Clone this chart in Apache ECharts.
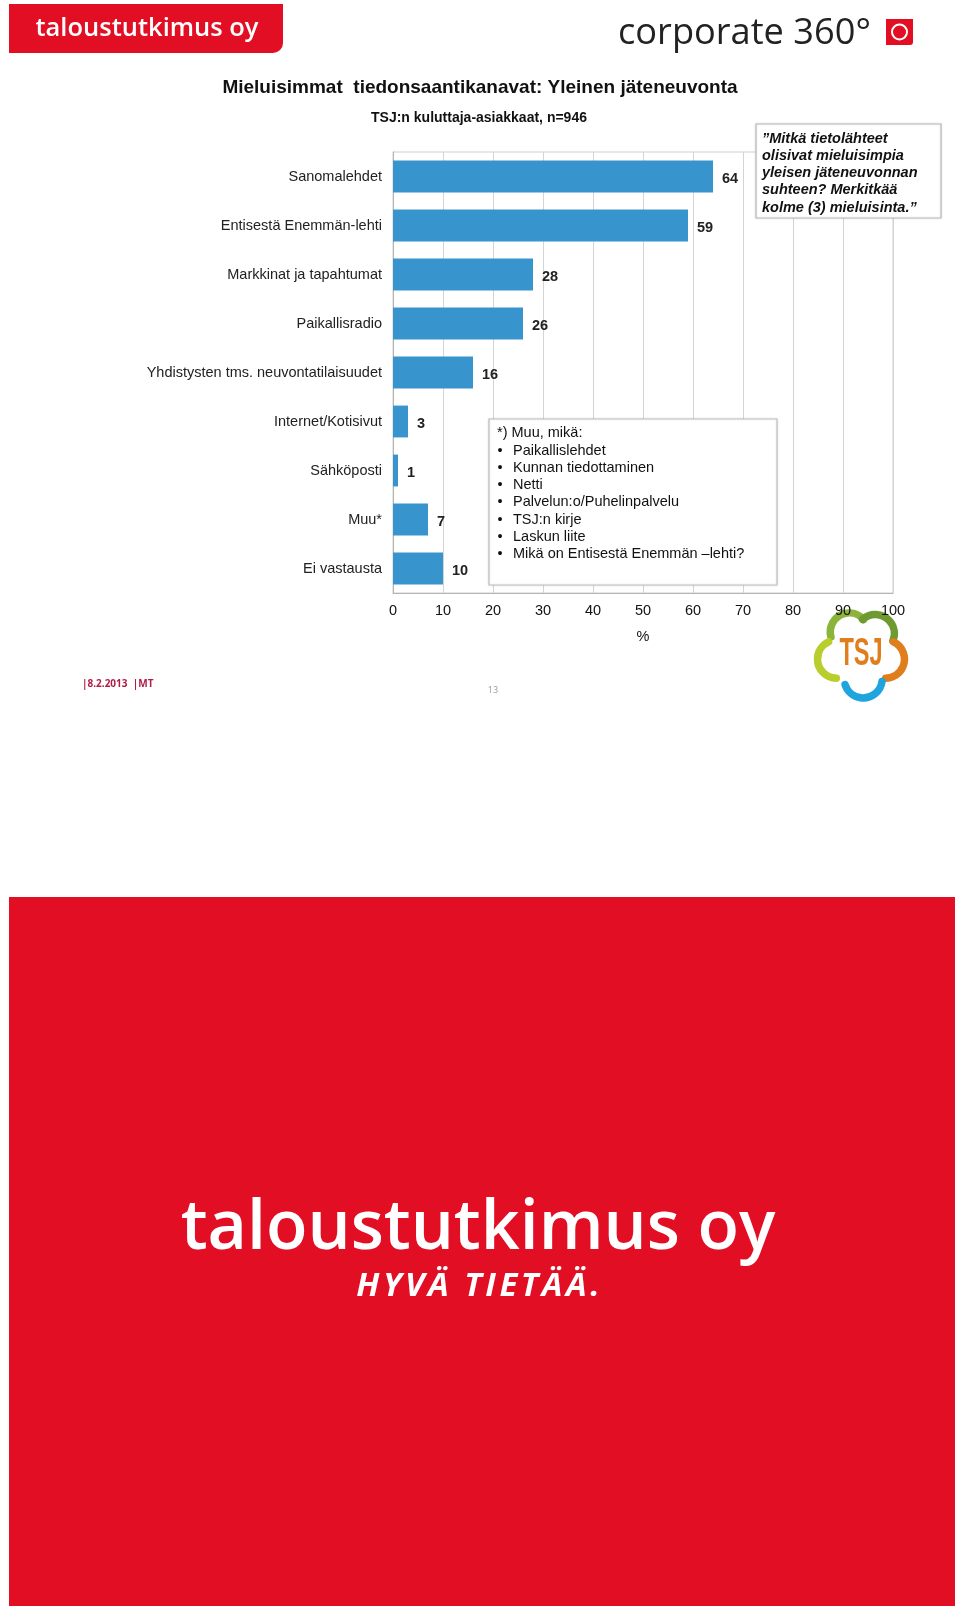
<!DOCTYPE html>
<html>
<head>
<meta charset="utf-8">
<script src="https://cdn.jsdelivr.net/npm/echarts@6/dist/echarts.min.js"></script>
<style>
html,body{margin:0;padding:0;background:#fff;}
#chart{width:960px;height:1616px;}
</style>
</head>
<body>
<div id="chart"></div>
<script>
const categories = ["Sanomalehdet", "Entisestä Enemmän-lehti", "Markkinat ja tapahtumat", "Paikallisradio", "Yhdistysten tms. neuvontatilaisuudet", "Internet/Kotisivut", "Sähköposti", "Muu*", "Ei vastausta"];
const values = [64, 59, 28, 26, 16, 3, 1, 7, 10];
const xTicks = [0, 10, 20, 30, 40, 50, 60, 70, 80, 90, 100];
const titleText = "Mieluisimmat  tiedonsaantikanavat: Yleinen jäteneuvonta";
const subtitleText = "TSJ:n kuluttaja-asiakkaat, n=946";
const quoteLines = ["”Mitkä tietolähteet", "olisivat mieluisimpia", "yleisen jäteneuvonnan", "suhteen? Merkitkää", "kolme (3) mieluisinta.”"];
const muuHeader = "*) Muu, mikä:";
const muuItems = ["Paikallislehdet", "Kunnan tiedottaminen", "Netti", "Palvelun:o/Puhelinpalvelu", "TSJ:n kirje", "Laskun liite", "Mikä on Entisestä Enemmän –lehti?"];

const RED = '#e20e24';
const chart = echarts.init(document.getElementById('chart'), null, {renderer: 'canvas'});

const graphics = [];
// top-left banner
graphics.push({type:'rect', shape:{x:9, y:4, width:274, height:49, r:[0,0,10,0]}, style:{fill:RED}, z:1});
graphics.push({type:'text', x:147, y:29, style:{text:'taloustutkimus oy', fill:'#fff', font:'600 25.5px "Open Sans"', textAlign:'center', textVerticalAlign:'middle'}, z:2});
// corporate 360
graphics.push({type:'text', x:618, y:34, style:{text:'corporate 360°', fill:'#222', font:'400 36.2px "Open Sans"', textAlign:'left', textVerticalAlign:'middle'}, z:2});
graphics.push({type:'rect', shape:{x:886, y:19, width:27, height:26, r:[0,0,3,0]}, style:{fill:RED}, z:1});
graphics.push({type:'circle', shape:{cx:899.5, cy:32, r:7.5}, style:{fill:'none', stroke:'#fff', lineWidth:2}, z:2});
// titles
graphics.push({type:'text', x:480, y:88, style:{text:titleText, fill:'#111', font:'bold 19px "Liberation Sans", Arial', textAlign:'center', textVerticalAlign:'middle'}, z:2});
graphics.push({type:'text', x:479, y:118, style:{text:subtitleText, fill:'#111', font:'bold 14px "Liberation Sans", Arial', textAlign:'center', textVerticalAlign:'middle'}, z:2});
// quote box
graphics.push({type:'rect', shape:{x:756, y:124, width:185, height:94}, style:{fill:'#fff', stroke:'#bdbdbd', lineWidth:1.2, shadowBlur:2, shadowColor:'rgba(0,0,0,0.15)'}, z:5});
quoteLines.forEach((t,i)=>{
  graphics.push({type:'text', x:762, y:138.5 + i*17.3, style:{text:t, fill:'#111', font:'italic bold 14.5px "Liberation Sans", Arial', textAlign:'left', textVerticalAlign:'middle'}, z:6});
});
// muu box
graphics.push({type:'rect', shape:{x:489, y:419, width:288, height:166}, style:{fill:'#fff', stroke:'#c4c4c4', lineWidth:1.2, shadowBlur:2, shadowColor:'rgba(0,0,0,0.15)'}, z:5});
graphics.push({type:'text', x:497, y:433, style:{text:muuHeader, fill:'#111', font:'14.5px "Liberation Sans", Arial', textAlign:'left', textVerticalAlign:'middle'}, z:6});
muuItems.forEach((t,i)=>{
  const y = 450.5 + i*17.3;
  graphics.push({type:'text', x:500, y:y, style:{text:'•', fill:'#111', font:'14.5px "Liberation Sans", Arial', textAlign:'center', textVerticalAlign:'middle'}, z:6});
  graphics.push({type:'text', x:513, y:y, style:{text:t, fill:'#111', font:'14.5px "Liberation Sans", Arial', textAlign:'left', textVerticalAlign:'middle'}, z:6});
});
// TSJ logo
const lc = [861, 654];
const petals = [
  {a:-118, c:'#8cb43a'},
  {a:-55, c:'#6e9a30'},
  {a:12, c:'#e07d1c'},
  {a:85, c:'#1fa4de'},
  {a:168, c:'#b9cd2c'}
];
petals.forEach(p=>{
  const rad = p.a*Math.PI/180;
  const cx = lc[0] + 25*Math.cos(rad), cy = lc[1] + 25*Math.sin(rad);
  graphics.push({type:'arc', shape:{cx:cx, cy:cy, r:19, startAngle:rad-1.35, endAngle:rad+1.35, clockwise:true}, style:{fill:'none', stroke:p.c, lineWidth:7.5, lineCap:'round'}, z:1});
});
graphics.push({type:'text', x:lc[0], y:lc[1]+1, scaleX:0.62, style:{text:'TSJ', fill:'#e07d1c', font:'bold 38px "Liberation Sans", Arial', textAlign:'center', textVerticalAlign:'middle'}, z:1});
// footer
graphics.push({type:'text', x:82, y:684, style:{text:'|8.2.2013  |MT', fill:'#b01e48', font:'bold 10px "Open Sans"', textAlign:'left', textVerticalAlign:'middle'}, z:2});
graphics.push({type:'text', x:493, y:690, style:{text:'13', fill:'#999', font:'9px "Open Sans"', textAlign:'center', textVerticalAlign:'middle'}, z:2});
// bottom red panel
graphics.push({type:'rect', shape:{x:9, y:897, width:946, height:709}, style:{fill:RED}, z:1});
graphics.push({type:'text', x:478, y:1230, style:{text:'taloustutkimus oy', fill:'#fff', font:'600 68px "Open Sans"', textAlign:'center', textVerticalAlign:'middle'}, z:2});
// spaced slogan
(function(){
  const txt = 'HYVÄ TIETÄÄ.';
  const font = 'italic bold 33px "Open Sans"';
  const spacing = 3.5;
  const cv = document.createElement('canvas').getContext('2d');
  cv.font = font;
  const widths = Array.from(txt).map(ch => cv.measureText(ch).width);
  const total = widths.reduce((a,b)=>a+b,0) + spacing*(widths.length-1);
  let x = 478 - total/2;
  Array.from(txt).forEach((ch,i)=>{
    graphics.push({type:'text', x:x, y:1287, style:{text:ch, fill:'#fff', font:font, textAlign:'left', textVerticalAlign:'middle'}, z:2});
    x += widths[i] + spacing;
  });
})();

const option = {
  animation: false,
  backgroundColor: '#fff',
  grid: {left: 393, right: 67, top: 152, bottom: 1023, show: true, borderColor: '#cfcfcf', borderWidth: 1, backgroundColor: 'transparent'},
  xAxis: {
    type: 'value', min: 0, max: 100, interval: 10, z: 3,
    axisLine: {show: true, lineStyle: {color: '#b5b5b5'}},
    axisTick: {show: false},
    splitLine: {show: true, lineStyle: {color: '#d4d4d4', width: 1}},
    axisLabel: {color: '#111', fontSize: 14.5, fontFamily: '"Liberation Sans", Arial', margin: 10,
      formatter: v => xTicks.indexOf(v) >= 0 ? String(v) : ''},
    name: '%', nameLocation: 'middle', nameGap: 36,
    nameTextStyle: {color: '#111', fontSize: 14.5, fontFamily: '"Liberation Sans", Arial'}
  },
  yAxis: {
    type: 'category', data: categories, inverse: true, z: 3,
    axisLine: {show: true, lineStyle: {color: '#b5b5b5'}},
    axisTick: {show: false},
    axisLabel: {color: '#222', fontSize: 14.5, fontFamily: '"Liberation Sans", Arial', margin: 11}
  },
  series: [{
    type: 'bar', data: values, z: 4,
    barCategoryGap: '35%',
    itemStyle: {color: '#3894cd'},
    label: {show: true, position: 'right', distance: 9, color: '#222', fontWeight: 'bold', fontSize: 14.5,
      fontFamily: '"Liberation Sans", Arial', offset: [0, 2]}
  }],
  graphic: graphics
};
chart.setOption(option);
</script>
</body>
</html>
